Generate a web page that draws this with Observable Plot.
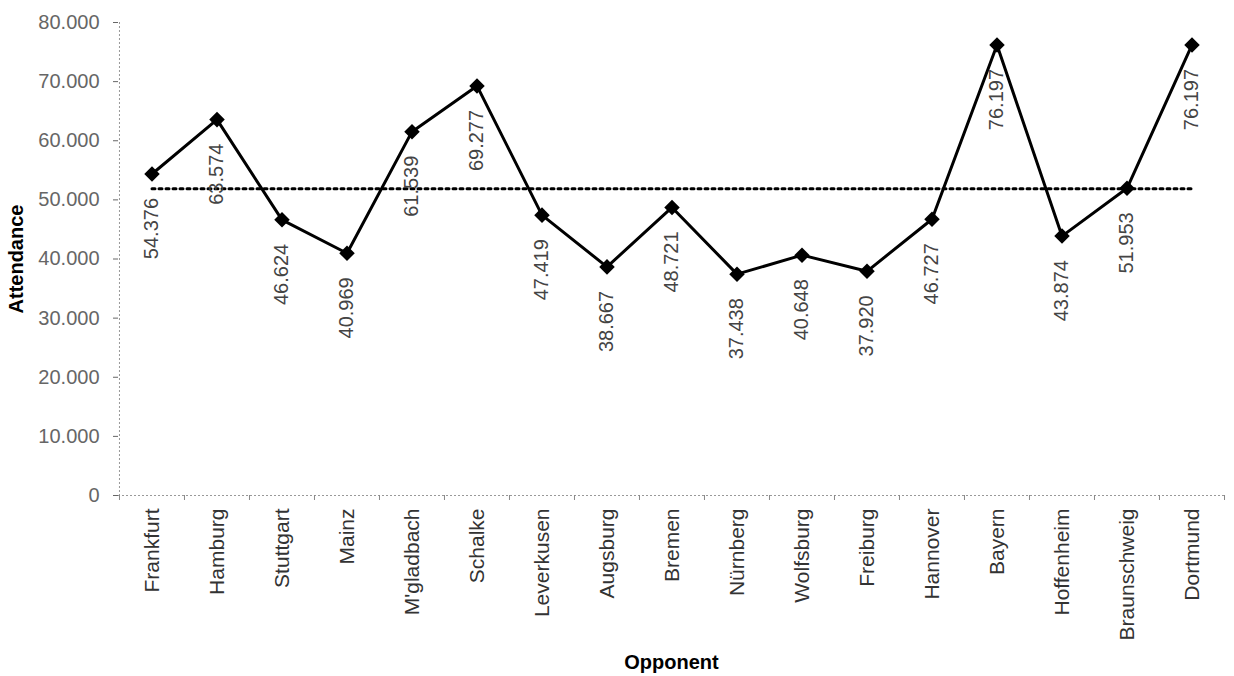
<!DOCTYPE html>
<html><head><meta charset="utf-8">
<script src="https://cdn.jsdelivr.net/npm/d3@7"></script>
<script src="https://cdn.jsdelivr.net/npm/@observablehq/plot@0.6"></script>
<style>html,body{margin:0;padding:0;background:#fff;}</style>
</head><body><div id="chart"></div>
<script>
const opponents = ["Frankfurt","Hamburg","Stuttgart","Mainz","M'gladbach","Schalke","Leverkusen","Augsburg","Bremen","Nürnberg","Wolfsburg","Freiburg","Hannover","Bayern","Hoffenheim","Braunschweig","Dortmund"];
const attendance = [54376,63574,46624,40969,61539,69277,47419,38667,48721,37438,40648,37920,46727,76197,43874,51953,76197];
const yTicks = [0,10000,20000,30000,40000,50000,60000,70000,80000];

const data = opponents.map((o, i) => ({opponent: o, attendance: attendance[i]}));
const avg = d3.mean(attendance);

const W = 1234, H = 676, mL = 118, mR = 10, mT = 22, mB = 181;
const step = (W - mL - mR) / opponents.length;
const de = d3.formatLocale({decimal: ",", thousands: ".", grouping: [3], currency: ["", " €"]});
const fmt = de.format(",d");

const chart = Plot.plot({
  width: W, height: H,
  marginLeft: mL, marginRight: mR, marginTop: mT, marginBottom: mB,
  style: {fontFamily: "'Liberation Sans', Arial, sans-serif", fontSize: "20px", background: "#fff", overflow: "visible"},
  x: {type: "band", domain: opponents, padding: 0, label: null},
  y: {domain: [0, 80000], label: null},
  marks: [
    Plot.ruleY([0], {stroke: "#999", strokeDasharray: "2,2"}),
    Plot.ruleX([opponents[0]], {dx: -step / 2, stroke: "#999", strokeDasharray: "2,2"}),
    Plot.ruleX(opponents, {x: d => d, dx: -step / 2, y1: 0, y2: 0, insetBottom: -5, stroke: "#888"}),
    Plot.ruleX([opponents[opponents.length - 1]], {dx: step / 2, y1: 0, y2: 0, insetBottom: -5, stroke: "#888"}),
    Plot.axisY({ticks: yTicks, tickSize: 5, tickPadding: 14, tickFormat: fmt, color: "#666", label: null, fontSize: 20}),
    Plot.axisX({tickSize: 0, tickRotate: -90, tickPadding: 13, color: "#333", label: null, fontSize: 21}),
    Plot.lineY(opponents, {x: d => d, y: () => avg, stroke: "#000", strokeWidth: 3, strokeDasharray: "3,4"}),
    Plot.line(data, {x: "opponent", y: "attendance", stroke: "#000", strokeWidth: 3}),
    Plot.dot(data, {x: "opponent", y: "attendance", symbol: "diamond2", r: 7, fill: "#000", stroke: "none"}),
    Plot.text(data, {x: "opponent", y: "attendance", text: d => fmt(d.attendance), rotate: -90, textAnchor: "end", lineAnchor: "middle", dy: 24, fill: "#444", fontSize: 20}),
    Plot.text(["Attendance"], {frameAnchor: "left", rotate: -90, dx: -102, textAnchor: "middle", lineAnchor: "middle", fontWeight: "bold", fontSize: 20, fill: "#000"}),
    Plot.text(["Opponent"], {frameAnchor: "bottom", dy: 167, textAnchor: "middle", lineAnchor: "middle", fontWeight: "bold", fontSize: 20, fill: "#000"})
  ]
});
document.getElementById("chart").append(chart);
</script>
</body></html>
